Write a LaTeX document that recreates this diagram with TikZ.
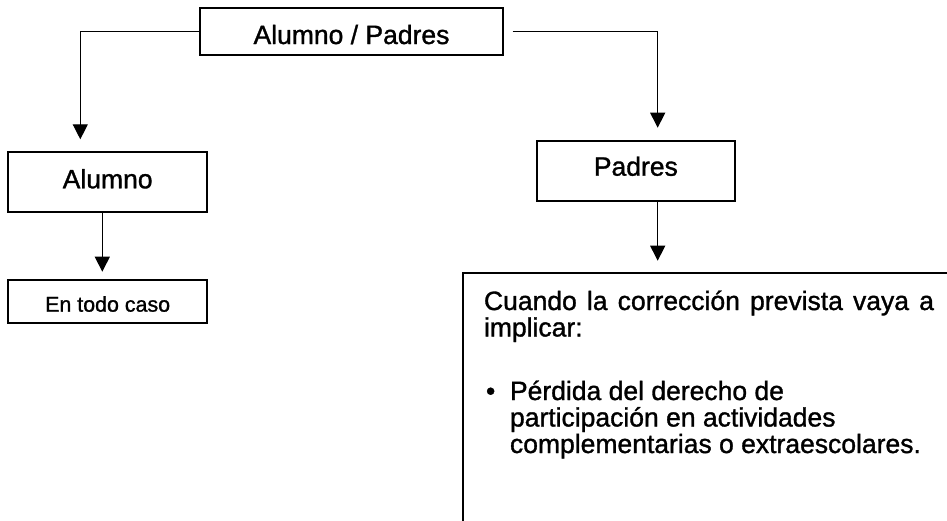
\documentclass[tikz,border=0pt]{standalone}
\usepackage{fontspec}
\setmainfont{Liberation Sans}[BoldFont={Liberation Sans}, BoldFeatures={FakeBold=1.2}]
\usetikzlibrary{arrows.meta,calc}
\begin{document}
\begin{tikzpicture}[x=1pt,y=1pt,
  box/.style={draw=black, line width=1.7pt, inner sep=0pt, outer sep=0pt,
    font=\fontsize{26.5}{30}\selectfont\bfseries},
  conn/.style={line width=1.3pt, -{Triangle[width=15pt,length=15pt]}},
  bodytext/.style={anchor=base west, inner sep=0pt, outer sep=0pt,
    font=\fontsize{26.5}{26.5}\selectfont\bfseries}
]
\fill[white] (0,0) rectangle (947,-520);
\useasboundingbox (0,0) rectangle (947,-520);
\clip (0,0) rectangle (947,-520);

\node[box, minimum width=302.4pt, minimum height=46.7pt, text height=24.7pt, text depth=0pt] (top) at (351.5,-31.65) {Alumno / Padres};
\node[box, minimum width=198.7pt, minimum height=60pt, text height=19pt, text depth=7pt] (alumno) at (107.65,-182.3) {Alumno};
\node[box, minimum width=198.7pt, minimum height=43.3pt, text height=20pt, text depth=0pt, font=\fontsize{21.4}{24}\selectfont\bfseries] (entodo) at (107.65,-301.65) {En todo caso};
\node[box, minimum width=198.3pt, minimum height=60pt, text height=19pt, text depth=9pt] (padres) at (635.85,-170.7) {Padres};
\node[box, anchor=north west, minimum width=600pt, minimum height=400pt] (big) at (463.3,-272.7) {};
\node[bodytext] (bigtext) at (484,-310) {\vtop{\baselineskip=26.5pt\lineskip=0pt\lineskiplimit=-50pt
  \hbox to 450pt{Cuando \hfill la \hfill corrección \hfill prevista \hfill vaya \hfill a}
  \hbox{implicar:}
  \vskip 37pt
  \hbox{\hbox to 26pt{\kern2pt\textbullet\hss}Pérdida del derecho de}
  \hbox{\kern26pt participación en actividades}
  \hbox{\kern26pt complementarias o extraescolares.}}};

\coordinate (lc) at ($(alumno.north west)+(72,0)$);
\coordinate (rs) at ($(top.east)+(10,0)$);
\coordinate (rc) at ($(padres.north west)+(121,0)$);
\coordinate (as) at ($(alumno.south west)+(94,0)$);
\coordinate (ae) at ($(entodo.north west)+(94,0)$);
\coordinate (ps) at ($(padres.south west)+(121,0)$);

\draw[conn, shorten >=13pt] (top.west) -| (lc);
\draw[conn, shorten >=13pt] (rs) -| (rc);
\draw[conn, shorten >=8.3pt] (as) -- (ae);
\draw[conn, shorten >=12pt] (ps) -- (ps |- big.north);
\end{tikzpicture}
\end{document}
